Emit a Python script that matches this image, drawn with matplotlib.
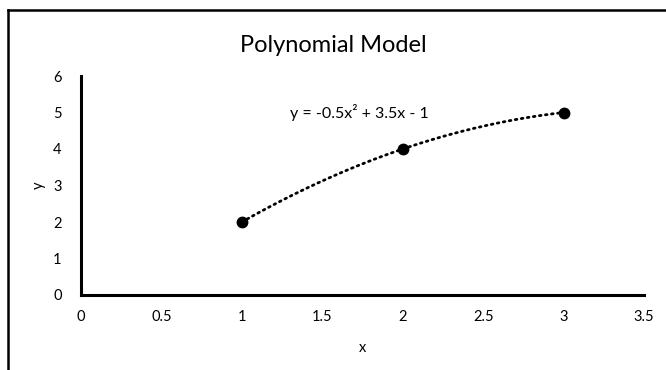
import numpy as np
import matplotlib.pyplot as plt
from matplotlib.lines import Line2D

plt.rcParams['font.family'] = ['Lato', 'DejaVu Sans']

# data points
x_data = [1, 2, 3]
y_data = [2, 4, 5]

x_ticks = [0, 0.5, 1, 1.5, 2, 2.5, 3, 3.5]
y_ticks = [0, 1, 2, 3, 4, 5, 6]

# 2nd order polynomial trendline, like Excel
coef = np.polyfit(x_data, y_data, 2)
x_fit = np.linspace(min(x_data), max(x_data), 200)
y_fit = np.polyval(coef, x_fit)

fig = plt.figure(figsize=(6.66, 3.7), dpi=100)
ax = fig.add_axes([81 / 666, 75 / 370, (644 - 81) / 666, (295 - 76) / 370])

ax.plot(x_fit, y_fit, color='black', linestyle=(0, (0.6, 1.6)), linewidth=2,
        dash_capstyle='round')
ax.plot(x_data, y_data, 'o', color='black', markersize=7.5, zorder=3)

ax.set_xlim(0, 3.5)
ax.set_ylim(0, 6)
ax.set_xticks(x_ticks)
ax.set_xticklabels([f'{t:g}' for t in x_ticks])
ax.set_yticks(y_ticks)
ax.tick_params(axis='x', length=0, labelsize=10.5, pad=11)
ax.tick_params(axis='y', length=0, labelsize=10.5, pad=14)

for side in ['top', 'right']:
    ax.spines[side].set_visible(False)
for side in ['left', 'bottom']:
    ax.spines[side].set_linewidth(2.2)

ax.set_xlabel('x', fontsize=10.5, labelpad=12)
ax.set_ylabel('y', fontsize=10.5, labelpad=5)

fig.text(0.5, 1 - 45 / 370, 'Polynomial Model', ha='center', va='center', fontsize=17)
ax.text(1.3, 5.0, 'y = -0.5x² + 3.5x - 1', ha='left', va='center', fontsize=11.5)

# outer chart border (cut off at right and bottom)
fig.add_artist(Line2D([8 / 666, 1], [1 - 10 / 370, 1 - 10 / 370], color='black',
                      linewidth=1.8, transform=fig.transFigure))
fig.add_artist(Line2D([8 / 666, 8 / 666], [0, 1 - 10 / 370], color='black',
                      linewidth=1.8, transform=fig.transFigure))

fig.savefig('out.png', dpi=100)
